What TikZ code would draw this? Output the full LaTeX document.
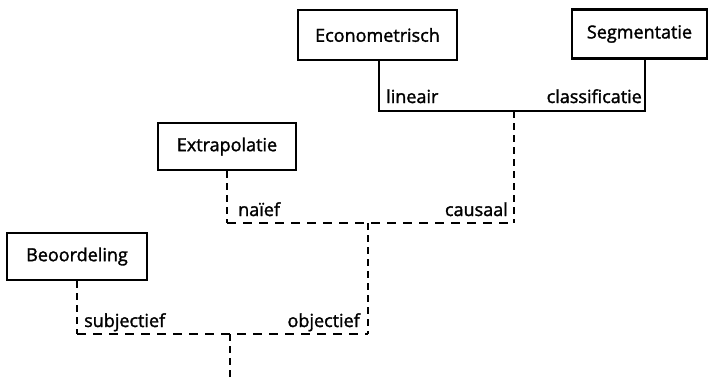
\documentclass[tikz,border=0pt]{standalone}
\usepackage{fontspec}
\setmainfont{Open Sans}[FakeBold=1.6]
\begin{document}
\begin{tikzpicture}[x=1pt,y=-1pt,
  txt/.style={font=\fontsize{18}{20}\selectfont},
  box/.style={txt, draw, line width=2.8pt, inner sep=0pt},
  lbl/.style={txt, inner sep=0pt},
  solidline/.style={line width=2.2pt},
  hdash/.style={line width=2.6pt, dash pattern=on 9pt off 7pt},
  vdash/.style={line width=2.6pt, dash pattern=on 7pt off 5pt}]
\useasboundingbox (0,0) rectangle (716,381);

% method boxes
\node[box, minimum width=159pt, minimum height=50pt] (econ) at (377.5,35) {Econometrisch};
\node[box, minimum width=135pt, minimum height=49pt] (segm) at (639.5,34) {Segmentatie};
\node[box, minimum width=138pt, minimum height=47pt] (extra) at (227,146.5) {Extrapolatie};
\node[box, minimum width=140pt, minimum height=47pt] (beoo) at (77,256.5) {Beoordeling};

% junction points of the tree
\coordinate (jtop) at (514,111);
\coordinate (jmid) at (368,223);
\coordinate (jlow) at (230,334);
\coordinate (root) at (230,377);

% causaal: lineair / classificatie (solid)
\draw[solidline] (379,60) coordinate (econfoot) -- (econfoot |- jtop) -- (645,111) coordinate (segmcorner) -- (segmcorner |- segm.south);

% objectief: naief / causaal (dashed)
\draw[vdash] (jtop) -- (jtop |- jmid);
\draw[hdash] (extra.south |- jmid) -- (jtop |- jmid);
\draw[vdash] (extra.south) -- (extra.south |- jmid);

% subjectief / objectief (dashed)
\draw[vdash] (jmid) -- (jmid |- jlow);
\draw[hdash] (beoo.south |- jlow) -- (jmid |- jlow);
\draw[vdash] (beoo.south) -- (beoo.south |- jlow);
\draw[vdash] (jlow) -- (root);

% branch labels
\node[lbl, anchor=base west] (lin) at (386,103) {lineair};
\node[lbl, anchor=base east] (cls) at (642,103) {classificatie};
\node[lbl, anchor=base west] (nai) at (238,216) {naïef};
\node[lbl, anchor=base east] (cau) at (508,216) {causaal};
\node[lbl, anchor=base west] (sub) at (84,327) {subjectief};
\node[lbl, anchor=base east] (obj) at (360,327) {objectief};
\end{tikzpicture}
\end{document}
